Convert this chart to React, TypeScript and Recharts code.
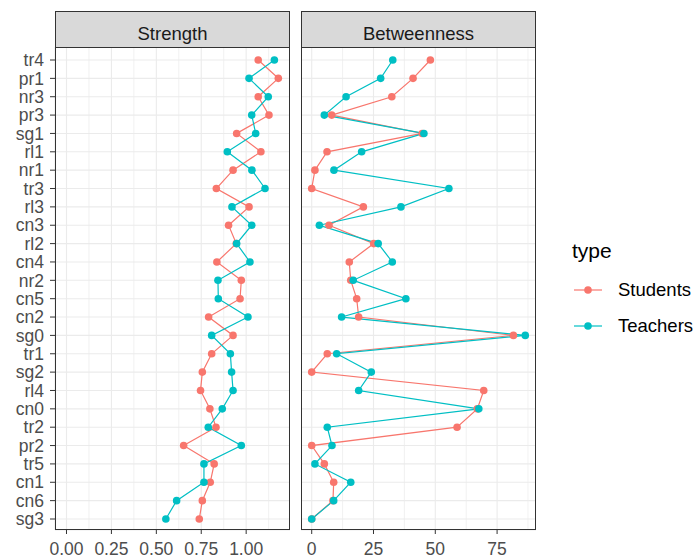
import React from "react";
import { LineChart, Line, XAxis, YAxis, CartesianGrid, ReferenceLine } from "recharts";

const nodes = ["tr4","pr1","nr3","pr3","sg1","rl1","nr1","tr3","rl3","cn3","rl2","cn4","nr2","cn5","cn2","sg0","tr1","sg2","rl4","cn0","tr2","pr2","tr5","cn1","cn6","sg3"];

const strengthStudents = [1.067,1.179,1.067,1.127,0.947,1.082,0.927,0.834,1.016,0.902,0.945,0.837,0.973,0.966,0.791,0.927,0.808,0.756,0.746,0.798,0.832,0.652,0.822,0.800,0.756,0.739];
const strengthTeachers = [1.157,1.016,1.123,1.031,1.053,0.895,1.032,1.105,0.921,1.031,0.947,1.021,0.843,0.845,1.010,0.808,0.912,0.919,0.927,0.867,0.789,0.973,0.765,0.765,0.613,0.553];
const betweenStudents = [48.0,41.0,32.4,8.1,44.7,6.2,1.3,0,20.9,7.0,25.1,15.2,15.8,18.2,19.0,81.6,6.3,0,69.6,67.0,58.8,0,5.1,8.9,8.6,0];
const betweenTeachers = [32.8,27.9,13.9,5.1,45.4,20.2,9.0,55.5,36.1,3.1,26.9,32.6,16.8,38.1,12.1,86.4,10.1,24.1,19.0,67.6,6.3,8.2,1.3,15.8,8.9,0];

const strengthTicks = [0, 0.25, 0.5, 0.75, 1.0];
const strengthMinor = [0.125, 0.375, 0.625, 0.875, 1.125];
const betweenTicks = [0, 25, 50, 75];
const betweenMinor = [12.5, 37.5, 62.5, 87.5];

const seriesNames = ["Students", "Teachers"];
const RED = "#F8766D";
const TEAL = "#00BFC4";

const strengthData = nodes.map((n, i) => ({ node: n, Students: strengthStudents[i], Teachers: strengthTeachers[i] }));
const betweenData = nodes.map((n, i) => ({ node: n, Students: betweenStudents[i], Teachers: betweenTeachers[i] }));

const FONT = "'Liberation Sans', Arial, sans-serif";
const PANEL_TOP = 47;
const PANEL_H = 483;
const PANEL_W = 235;

const Panel = ({ data, ticks, minor, domain, fmt, showY, left, title }: any) => {
  const width = showY ? PANEL_W + 55 : PANEL_W;
  return (
    <>
      <div style={{ position: "absolute", left: left - (showY ? 55 : 0), top: 0 }}>
        <LineChart
          width={width}
          height={558}
          data={data}
          layout="vertical"
          margin={{ top: PANEL_TOP, right: 0, bottom: 0, left: 0 }}
        >
          <CartesianGrid stroke="#EBEBEB" strokeWidth={1.1} />
          {minor.map((m: number) => (
            <ReferenceLine key={m} x={m} stroke="#EBEBEB" strokeWidth={0.7} />
          ))}
          <XAxis
            type="number"
            domain={domain}
            ticks={ticks}
            allowDataOverflow
            height={28}
            tickSize={4}
            tickMargin={9}
            axisLine={false}
            tickLine={{ stroke: "#333333" }}
            tick={{ fill: "#4D4D4D", fontSize: 17.5, fontFamily: FONT }}
            tickFormatter={fmt}
            interval={0}
          />
          <YAxis
            type="category"
            dataKey="node"
            hide={!showY}
            width={showY ? 55 : 0}
            padding={{ top: 13, bottom: 11 }}
            tickSize={5}
            tickMargin={6}
            axisLine={false}
            tickLine={{ stroke: "#333333" }}
            tick={{ fill: "#4D4D4D", fontSize: 17.5, fontFamily: FONT }}
            interval={0}
          />
          <Line
            dataKey="Students"
            stroke={RED}
            strokeWidth={1.2}
            dot={{ r: 3.8, fill: RED, stroke: RED, strokeWidth: 0 }}
            isAnimationActive={false}
          />
          <Line
            dataKey="Teachers"
            stroke={TEAL}
            strokeWidth={1.2}
            dot={{ r: 3.8, fill: TEAL, stroke: TEAL, strokeWidth: 0 }}
            isAnimationActive={false}
          />
        </LineChart>
      </div>
      <div
        style={{
          position: "absolute",
          left,
          top: PANEL_TOP,
          width: PANEL_W,
          height: PANEL_H,
          border: "1.3px solid #333333",
          boxSizing: "border-box",
          pointerEvents: "none",
        }}
      />
      <div
        style={{
          position: "absolute",
          left,
          top: 11,
          width: PANEL_W,
          height: PANEL_TOP - 11 + 1,
          border: "1.3px solid #333333",
          boxSizing: "border-box",
          background: "#D9D9D9",
          color: "#1A1A1A",
          fontSize: 18.5,
          fontFamily: FONT,
          textAlign: "center",
          lineHeight: "22px",
          paddingTop: 11,
        }}
      >
        {title}
      </div>
    </>
  );
};

const LegendKey = ({ color }: { color: string }) => (
  <svg width={30} height={12} style={{ position: "absolute", left: 0, top: 0 }}>
    <line x1={1} y1={6} x2={29} y2={6} stroke={color} strokeWidth={1.2} />
    <circle cx={15} cy={6} r={3.8} fill={color} />
  </svg>
);

export default function App() {
  const colors = [RED, TEAL];
  return (
    <div style={{ position: "absolute", left: 0, top: 0, width: 699, height: 558, background: "#FFFFFF", fontFamily: FONT, overflow: "hidden" }}>
      <Panel data={strengthData} ticks={strengthTicks} minor={strengthMinor} domain={[-0.064, 1.244]} fmt={(v: number) => v.toFixed(2)} showY left={55} title="Strength" />
      <Panel data={betweenData} ticks={betweenTicks} minor={betweenMinor} domain={[-4.33, 90.74]} fmt={(v: number) => String(v)} showY={false} left={301} title="Betweenness" />
      <div style={{ position: "absolute", left: 572, top: 236, fontSize: 21, color: "#000", lineHeight: "30px" }}>type</div>
      {seriesNames.map((s, i) => (
        <div key={s} style={{ position: "absolute", left: 573, top: 284 + i * 36, height: 12 }}>
          <LegendKey color={colors[i]} />
          <div style={{ position: "absolute", left: 45, top: -9, fontSize: 18.5, color: "#000", lineHeight: "30px", whiteSpace: "nowrap" }}>{s}</div>
        </div>
      ))}
    </div>
  );
}
